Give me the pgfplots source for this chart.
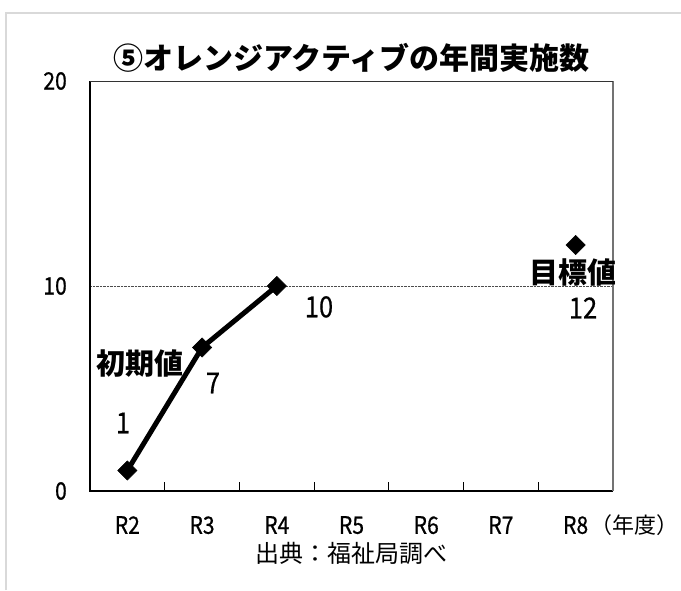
\documentclass[border=0pt]{standalone}
\usepackage{fontspec}
\setmainfont{Noto Sans CJK JP}
\newfontfamily\numfont{Noto Sans CJK JP}[FakeStretch=0.88, FakeBold=0.6]
\usepackage{pgfplots}
\pgfplotsset{compat=1.18}
\definecolor{framegray}{HTML}{D9D9D9}
\begin{document}
\begin{tikzpicture}
\useasboundingbox (0,0) rectangle (681pt,590pt);
\fill[white] (0,0) rectangle (681pt,590pt);
\draw[framegray, line width=2.5pt] (6pt,0pt) -- (6pt,577pt) -- (681pt,577pt);
\begin{axis}[
  at={(90pt,99pt)}, anchor=south west,
  scale only axis, width=523pt, height=410pt,
  xmin=-0.5, xmax=6.5, ymin=0, ymax=20,
  xtick={0,...,6}, xticklabels={R2,R3,R4,R5,R6,R7,R8},
  minor xtick={0.5,1.5,...,5.5},
  ytick={0,10,20},
  tick align=inside,
  xtick pos=lower, ytick pos=left,
  major tick length=0pt, minor tick length=9pt,
  tick style={black, line width=0.8pt},
  ymajorgrids, grid style={densely dotted, black!70, line width=0.7pt},
  axis line style={draw=none},
  clip=false,
  /pgf/number format/assume math mode=true,
  ticklabel style={font=\numfont\fontsize{24}{24}\selectfont, inner sep=0pt},
  xticklabel style={anchor=north, yshift=-25pt},
  yticklabel style={anchor=east, xshift=-23pt},
]
\draw[black, line width=1.2pt] (rel axis cs:0,1) -- (rel axis cs:0,0) -- (rel axis cs:1,0);
\draw[black!55, line width=1.2pt] (rel axis cs:1,0) -- (rel axis cs:1,1);
\draw[black!80, line width=0.9pt] (rel axis cs:0,1) -- (rel axis cs:1,1);
\addplot[black, line width=5pt, mark=square*, mark size=6.8pt,
  mark options={rotate=45, solid, fill=black, line width=0.5pt}]
  coordinates {(0,1) (1,7) (2,10)};
\addplot[black, only marks, mark=square*, mark size=6.8pt,
  mark options={rotate=45, solid, fill=black, line width=0.5pt}]
  coordinates {(6,12)};
\node[font=\numfont\fontsize{29}{29}\selectfont] at (axis cs:-0.058,3.32) {1};
\node[font=\fontsize{29}{29}\selectfont\bfseries] at (axis cs:0.169,6.24) {初期値};
\node[font=\numfont\fontsize{29}{29}\selectfont] at (axis cs:1.146,5.27) {7};
\node[font=\numfont\fontsize{29}{29}\selectfont] at (axis cs:2.565,8.98) {10};
\node[font=\fontsize{29}{29}\selectfont\bfseries] at (axis cs:5.965,10.68) {目標値};
\node[font=\numfont\fontsize{29}{29}\selectfont] at (axis cs:6.099,8.93) {12};
\node[font=\fontsize{30}{30}\selectfont\bfseries] at ([yshift=23pt]rel axis cs:0.5,1) {⑤オレンジアクティブの年間実施数};
\node[font=\fontsize{22}{22}\selectfont, anchor=west, inner sep=0pt] at ([yshift=-34pt]axis cs:6.2,0) {（年度）};
\node[font=\fontsize{24}{24}\selectfont] at ([yshift=-62pt]rel axis cs:0.5,0) {出典：福祉局調べ};
\end{axis}
\end{tikzpicture}
\end{document}
